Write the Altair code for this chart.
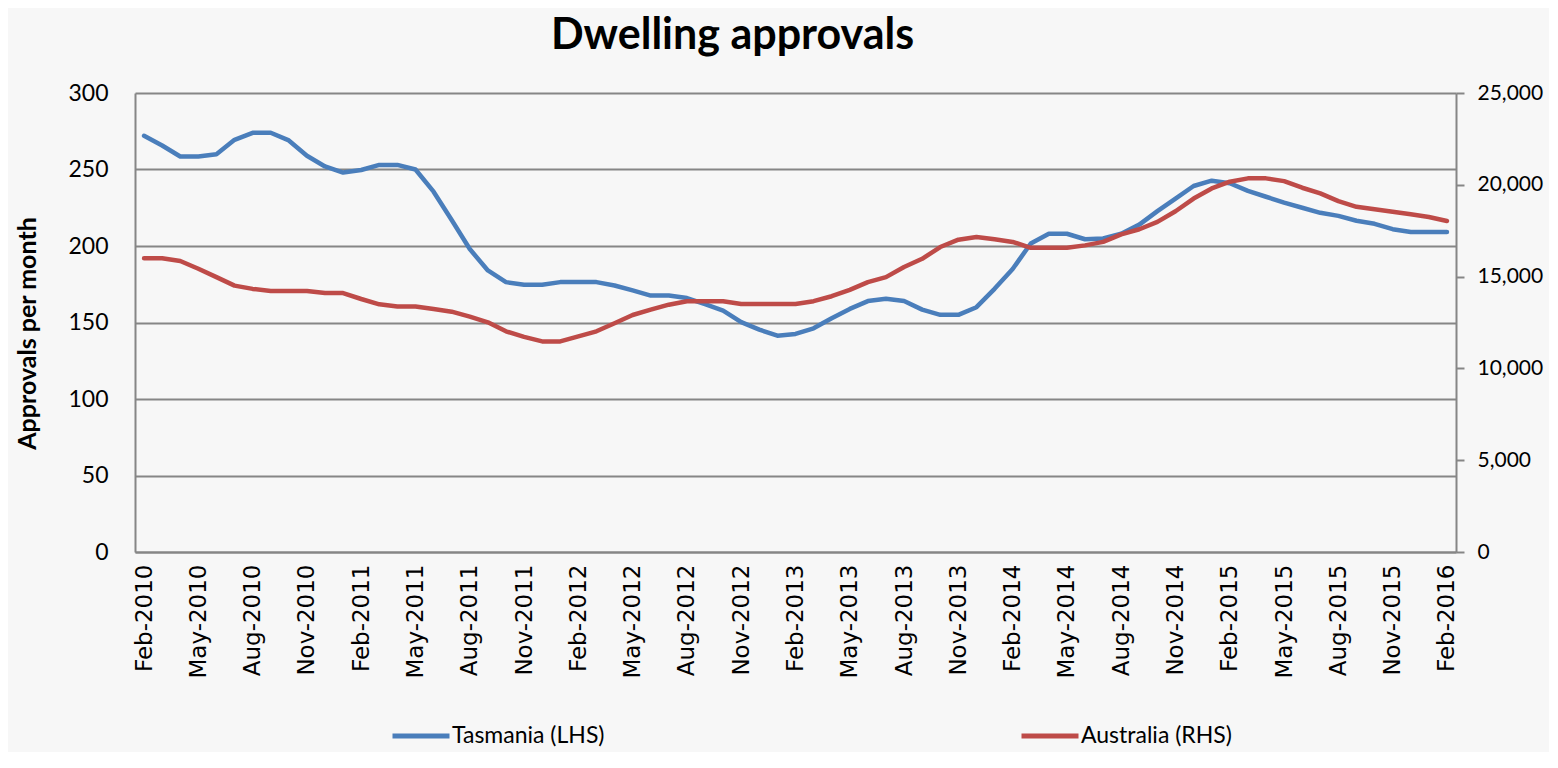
import altair as alt
import pandas as pd

months = list(pd.date_range("2010-02-01", periods=73, freq="MS").strftime("%b-%Y"))

tasmania = [272, 265.7, 258.5, 258.5, 260, 269.4, 274, 274, 269, 259, 252, 248, 249.7,
            253, 253, 250, 235.5, 217, 198, 184, 176.4, 174.7, 174.7, 176.4, 176.4,
            176.4, 174.2, 171, 167.6, 167.6, 166, 162, 157.8, 150.2, 145.3, 141.4, 142.5,
            146.2, 152.8, 158.9, 164, 165.5, 164, 158.4, 155, 155, 160, 172, 185,
            201.6, 208, 208, 204.4, 204.9, 208, 214, 222.8, 231, 239.2, 242.7, 241, 236,
            232.2, 228.3, 225, 221.7, 219.7, 216.5, 214.5, 211, 209.2, 209.2, 209.2]

australia = [16000, 16000, 15850, 15430, 14970, 14510, 14330, 14220, 14220, 14220, 14110,
             14100, 13780, 13490, 13370, 13370, 13240, 13090, 12820, 12510, 12020, 11720,
             11470, 11470, 11740,
             12020, 12460, 12910, 13200, 13470, 13660, 13660, 13660, 13510, 13510, 13510,
             13510, 13660, 13930, 14280, 14700, 14970, 15520, 15970, 16610, 17010, 17160,
             17030, 16890,
             16570, 16570, 16570, 16700, 16890, 17300, 17580, 17980, 18560, 19250, 19800,
             20170, 20350, 20350, 20200, 19840, 19530, 19110, 18800, 18670, 18530, 18400,
             18250, 18030]

series_names = ["Tasmania (LHS)", "Australia (RHS)"]
series_colors = ["#4a7ebb", "#be4b48"]
left_ticks = [0, 50, 100, 150, 200, 250, 300]
right_ticks = [0, 5000, 10000, 15000, 20000, 25000]
x_label_months = months[::3]

df = pd.concat([
    pd.DataFrame({"month": months, "value": tasmania, "series": series_names[0]}),
    pd.DataFrame({"month": months, "value": australia, "series": series_names[1]}),
])

GRID = "#868686"

x_enc = alt.X(
    "month:O", sort=months,
    scale=alt.Scale(type="point", padding=0.5),
    axis=alt.Axis(values=x_label_months, title=None, labelAngle=270, ticks=False,
                  labelFont="DejaVu Sans", labelFontSize=23, labelPadding=12,
                  labelColor="black", domainColor=GRID, domainWidth=2, grid=False),
)

color_enc = alt.Color(
    "series:N",
    scale=alt.Scale(domain=series_names, range=series_colors),
    legend=alt.Legend(orient="none", legendX=255, legendY=612, direction="horizontal",
                      columns=2, title=None, symbolType="stroke", symbolSize=3249,
                      symbolStrokeWidth=5, labelFont="Lato", labelFontSize=23,
                      labelColor="black", labelOffset=0, columnPadding=406),
)

left = alt.Chart(df).transform_filter(
    alt.datum.series == series_names[0]
).mark_line(strokeWidth=4.5, strokeJoin="round", strokeCap="round").encode(
    x=x_enc,
    y=alt.Y("value:Q", scale=alt.Scale(domain=[0, 300], nice=False),
            axis=alt.Axis(values=left_ticks, grid=True, gridColor=GRID, gridWidth=2,
                          ticks=False, labelFont="Lato", labelFontSize=23, labelPadding=27,
                          labelColor="black", domainColor=GRID, domainWidth=2,
                          title="Approvals per month", titleFont="Lato", titleFontSize=25,
                          titleFontWeight="bold", titleColor="black", titleAngle=270,
                          titleX=-108, titleY=240, titleAlign="center",
                          titleBaseline="middle")),
    color=color_enc,
)

right = alt.Chart(df).transform_filter(
    alt.datum.series == series_names[1]
).mark_line(strokeWidth=4.5, strokeJoin="round", strokeCap="round").encode(
    x=x_enc,
    y=alt.Y("value:Q", scale=alt.Scale(domain=[0, 25000], nice=False),
            axis=alt.Axis(orient="right", values=right_ticks, format=",.0f", grid=False,
                          ticks=True, tickSize=8, tickColor=GRID, tickWidth=2,
                          labelFont="Lato", labelFontSize=21, labelPadding=13,
                          labelColor="black", domainColor=GRID, domainWidth=2, title=None)),
    color=color_enc,
)

chart = alt.layer(left, right).resolve_scale(y="independent").properties(
    width=1321,
    height=459,
    autosize=alt.AutoSizeParams(type="none"),
    padding={"left": 127, "top": 85, "right": 93, "bottom": 200},
    background="#f7f7f7",
    title=alt.TitleParams("Dwelling approvals", font="Lato", fontSize=43,
                          fontWeight="bold", color="black", anchor="middle",
                          dx=-63, offset=24),
).configure_view(strokeWidth=0)

chart.save("out.html", embed_options={"renderer": "svg", "actions": False})
